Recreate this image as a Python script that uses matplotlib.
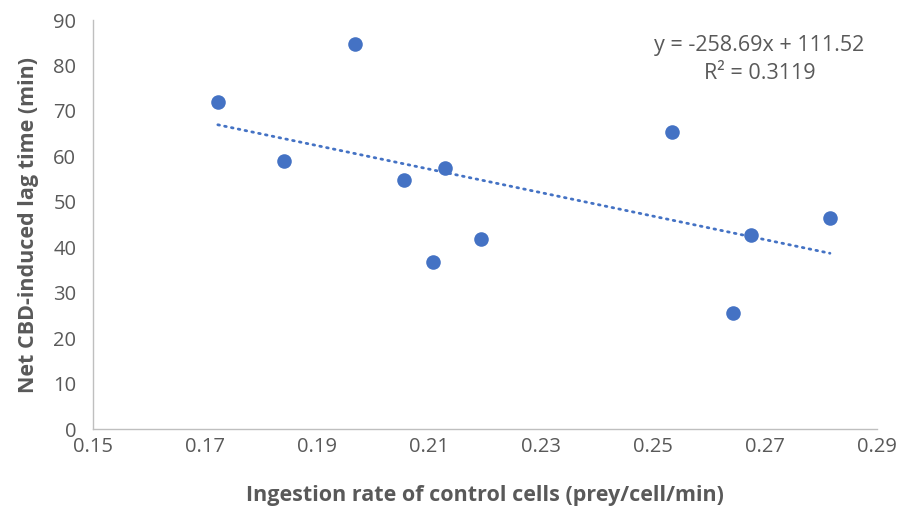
import numpy as np
import matplotlib.pyplot as plt

plt.rcParams['font.family'] = ['Open Sans', 'DejaVu Sans']

# ingestion rate vs net CBD-induced lag time
ingestion_rate = [0.1723, 0.1841, 0.1968, 0.2055, 0.2129, 0.2107,
                  0.2193, 0.2534, 0.2643, 0.2675, 0.2816]
lag_time = [72.0, 59.0, 84.7, 54.7, 57.4, 36.8,
            41.9, 65.4, 25.6, 42.8, 46.5]

# trendline as printed on the chart
slope = -258.69
intercept = 111.52
r_squared = 0.3119

x_ticks = [0.15, 0.17, 0.19, 0.21, 0.23, 0.25, 0.27, 0.29]
y_ticks = [0, 10, 20, 30, 40, 50, 60, 70, 80, 90]

gray = '#595959'
blue = '#4472C4'

fig = plt.figure(figsize=(8.99, 5.13), dpi=100)
ax = fig.add_axes([0.1034, 0.1637, 0.8721, 0.7973])

ax.scatter(ingestion_rate, lag_time, s=110, color=blue, zorder=3, linewidths=0)

xs = np.array([min(ingestion_rate), max(ingestion_rate)])
ax.plot(xs, slope * xs + intercept, color=blue, linestyle=(0, (0.6, 1.9)),
        linewidth=2.0, dash_capstyle='round', zorder=2)

ax.text(0.2690, 84.4, f'y = {slope}x + {intercept}', color=gray, fontsize=15.5,
        ha='center', va='center')
ax.text(0.2690, 78.2, f'R² = {r_squared}', color=gray, fontsize=15.5,
        ha='center', va='center')

ax.set_xlim(0.15, 0.29)
ax.set_ylim(0, 90)
ax.set_xticks(x_ticks)
ax.set_xticklabels([f'{t:.2f}' for t in x_ticks])
ax.set_yticks(y_ticks)
ax.tick_params(length=0, labelsize=14.5, labelcolor=gray)
ax.tick_params(axis='x', pad=6)
ax.tick_params(axis='y', pad=12)

for s in ['top', 'right']:
    ax.spines[s].set_visible(False)
for s in ['left', 'bottom']:
    ax.spines[s].set_color('#BFBFBF')
    ax.spines[s].set_linewidth(1.0)

ax.set_xlabel('Ingestion rate of control cells (prey/cell/min)', fontsize=15.5,
              fontweight='bold', color=gray, labelpad=20)
ax.set_ylabel('Net CBD-induced lag time (min)', fontsize=15.5,
              fontweight='bold', color=gray, labelpad=10)

fig.savefig('out.png', dpi=100)
